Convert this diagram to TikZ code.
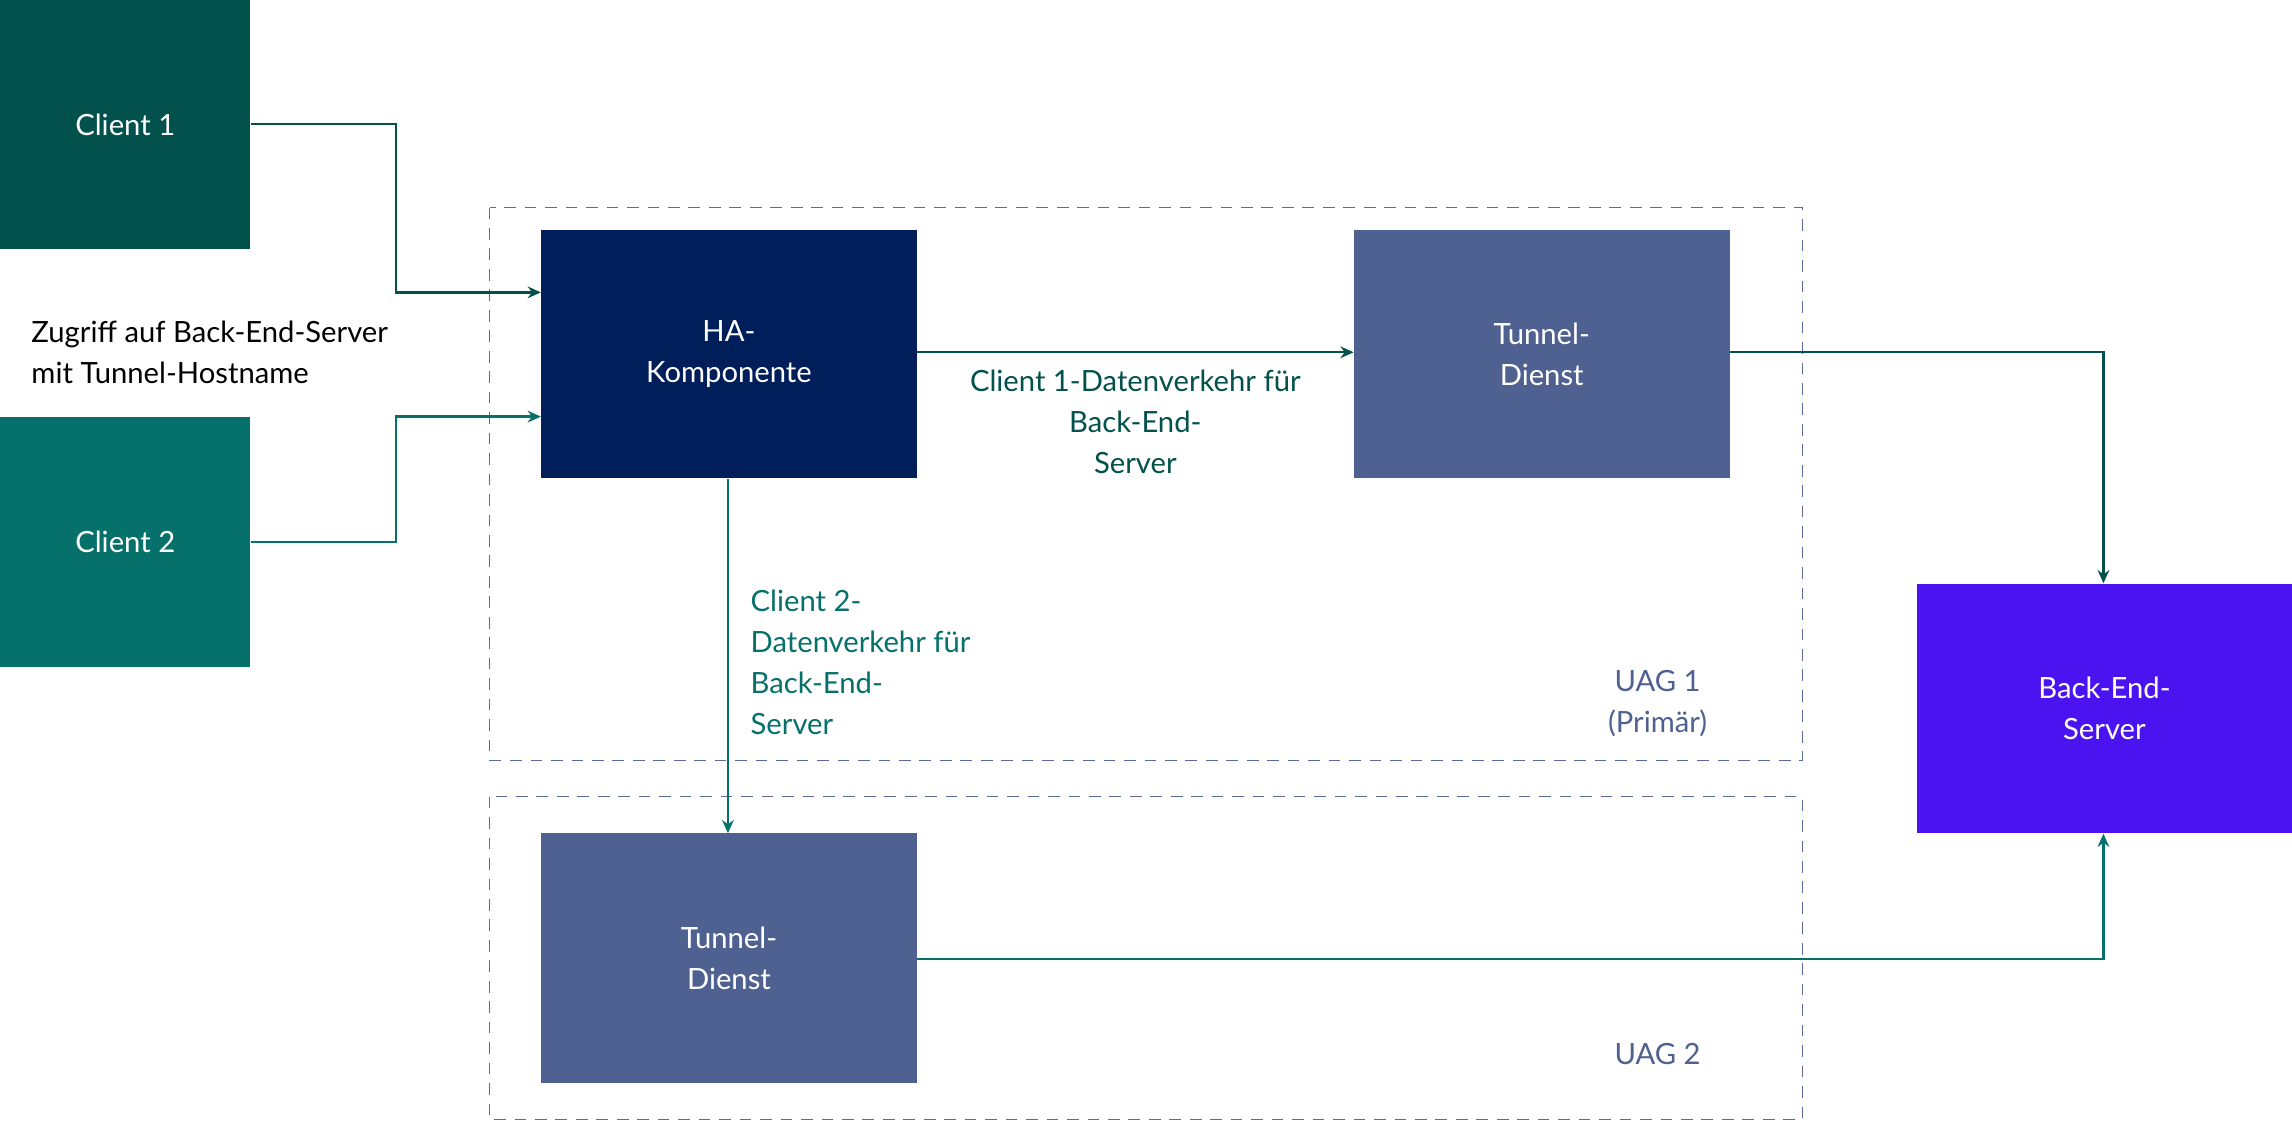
\documentclass[tikz,border=0pt]{standalone}
\usepackage{fontspec}
\setmainfont{Lato}
\usetikzlibrary{arrows.meta}
\definecolor{cA}{HTML}{03514C}
\definecolor{cB}{HTML}{06706A}
\definecolor{cNavy}{HTML}{001E5A}
\definecolor{cTun}{HTML}{4F6191}
\definecolor{cBE}{HTML}{4A13F0}
\definecolor{cDash}{HTML}{5A6A9A}
\begin{document}
\begin{tikzpicture}[x=1pt,y=-1pt,
  box/.style={minimum width=257pt,minimum height=171pt,anchor=north west,inner sep=0pt,text=white,align=center,font=\fontsize{20}{28}\selectfont},
  conn/.style={line width=1.6pt,-{Stealth[length=9pt,width=8pt]}},
  lbl/.style={font=\fontsize{20}{28}\selectfont},
  grp/.style={dashed,draw=cDash,line width=0.8pt,dash pattern=on 8pt off 6pt}]
\useasboundingbox (0,0) rectangle (1568,767);
\draw[grp] (335,142) rectangle (1233,520);
\draw[grp] (335,545) rectangle (1233,766);
\node[box,fill=cA,minimum width=171pt,minimum height=170pt] (c1) at (0,0) {Client 1};
\node[box,fill=cB,minimum width=171pt,minimum height=171pt] (c2) at (0,285) {Client 2};
\node[box,fill=cNavy,minimum height=170pt] (ha) at (370,157) {HA-\\Komponente};
\node[box,fill=cTun,minimum height=170pt] (t1) at (926,157) {Tunnel-\\Dienst};
\node[box,fill=cTun] (t2) at (370,570) {Tunnel-\\Dienst};
\node[box,fill=cBE] (be) at (1311,399) {Back-End-\\Server};
\node[lbl,align=left,anchor=west] (zg) at (18,241) {Zugriff auf Back-End-Server\\mit Tunnel-Hostname};
\node[lbl,text=cTun,align=center] (u1) at (1134,481) {UAG 1\\(Primär)};
\node[lbl,text=cTun] (u2) at (1134,721) {UAG 2};
\coordinate (h1) at (370,200);
\coordinate (h2) at (370,285);
\draw[conn,cA] (c1.east |- 0,85) -| (271,200) -- (h1);
\draw[conn,cB] (c2.east |- 0,371) -| (271,285) -- (h2);
\draw[conn,cA] (ha.east |- 0,241) -- (t1.west |- 0,241) node[lbl,midway,below=8pt,align=center,text=cA] (l1) {Client 1-Datenverkehr für\\Back-End-\\Server};
\draw[conn,cB] (ha.south -| 498,0) -- (t2.north -| 498,0);
\node[lbl,text=cB,align=left,anchor=north west] (l2) at (510,400) {Client 2-\\Datenverkehr für\\Back-End-\\Server};
\draw[conn,cA] (t1.east |- 0,241) -| (be.north -| 1439,0);
\draw[conn,cB] (t2.east |- 0,656) -| (be.south -| 1439,0);
\end{tikzpicture}
\end{document}
